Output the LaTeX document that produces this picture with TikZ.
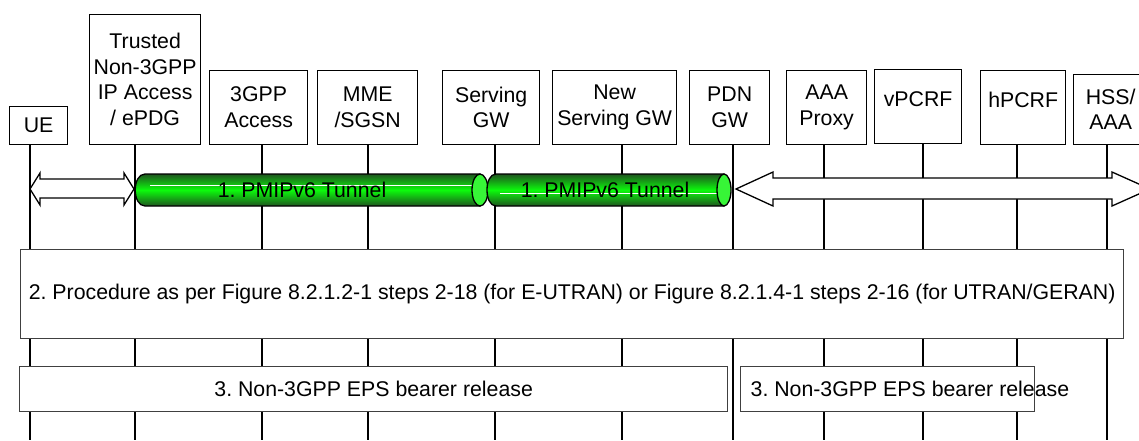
\documentclass[tikz,border=0pt]{standalone}
\usepackage{fontspec}
\setmainfont{Liberation Sans}
\frenchspacing
\definecolor{tundark}{RGB}{30,85,30}
\definecolor{tunmid}{RGB}{12,250,12}
\definecolor{capgreen}{RGB}{55,245,55}
\begin{document}
\begin{tikzpicture}[
    x=1pt, y=-1pt,
    font=\fontsize{21.3}{25.5}\selectfont,
    entity/.style={rectangle, draw, line width=1.3pt, fill=white, inner sep=0pt, align=center, anchor=south west},
    msgbox/.style={rectangle, draw=black!75, line width=1.3pt, fill=white, inner sep=0pt, anchor=north west},
    life/.style={draw, line width=1.3pt},
    hollow/.style={draw, line width=1.3pt, fill=white, line join=miter},
    tunnel/.style={top color=tundark, bottom color=tundark, middle color=tunmid, draw=black, line width=1.3pt},
    tunnelend/.style={draw, line width=1.3pt, fill=capgreen}
]
    \useasboundingbox (0,0) rectangle (1139,440);

    \node [entity, minimum width=58pt, minimum height=38pt] (ue) at (9,145) {UE};
    \node [entity, minimum width=111pt, minimum height=130pt] (tnga) at (89,145) {Trusted\\Non-3GPP\\IP Access\\/ ePDG};
    \node [entity, minimum width=98pt, minimum height=74pt] (acc) at (209,145) {3GPP\\Access};
    \node [entity, minimum width=100pt, minimum height=74pt] (mme) at (317,145) {MME\\/SGSN};
    \node [entity, minimum width=97pt, minimum height=74pt] (sgw) at (442,145) {Serving\\GW};
    \node [entity, minimum width=124pt, minimum height=74pt] (nsgw) at (552,145) {New\\Serving GW};
    \node [entity, minimum width=80pt, minimum height=74pt] (pgw) at (689,145) {PDN\\GW};
    \node [entity, minimum width=80pt, minimum height=74pt] (aaap) at (786,145) {AAA\\Proxy};
    \node [entity, minimum width=87pt, minimum height=74pt, text depth=14.7pt] (vpcrf) at (874,144) {vPCRF};
    \node [entity, minimum width=85pt, minimum height=74pt, text depth=14.7pt] (hpcrf) at (980,145) {hPCRF};
    \node [entity, minimum width=74pt, minimum height=70pt] (hss) at (1073,145) {HSS/\\AAA};

    \foreach \n/\x in {ue/30, tnga/135, acc/262, mme/368, sgw/495, nsgw/622, pgw/733, aaap/824, vpcrf/923, hpcrf/1017, hss/1107}
        \draw [life] (\n.south -| \x,0) -- (\x,440);

    \draw [hollow] (30,189) -- (40,173) -- (40,179) -- (124,179) -- (124,173) -- (134,189) -- (124,205) -- (124,198) -- (40,198) -- (40,205) -- cycle;
    \draw [hollow] (736,189) -- (773,172) -- (773,178) -- (1112,178) -- (1112,172) -- (1150,189) -- (1112,206) -- (1112,199) -- (773,199) -- (773,206) -- cycle;

    \shadedraw [tunnel] (145,174) -- (480,174) -- (480,206) -- (145,206) .. controls (132,206) and (132,174) .. cycle;
    \draw [white, line width=0.6pt] (150,185) -- (472,185);
    \draw [tunnelend] (480,190) ellipse [x radius=8, y radius=16];
    \node (t1) at (302,190) {1. PMIPv6 Tunnel};

    \shadedraw [tunnel] (496,174) -- (724,174) -- (724,206) -- (496,206) .. controls (484,206) and (484,174) .. cycle;
    \draw [white, line width=0.6pt] (500,193) -- (717,193);
    \draw [tunnelend] (724,190) ellipse [x radius=7, y radius=16];
    \node (t2) at (605,190) {1. PMIPv6 Tunnel};

    \node [msgbox, minimum width=1103pt, minimum height=89pt] (proc) at (20,249) {2. Procedure as per Figure 8.2.1.2-1 steps 2-18 (for E-UTRAN) or Figure 8.2.1.4-1 steps 2-16 (for UTRAN/GERAN)};

    \node [msgbox, minimum width=708pt, minimum height=45pt] (rel1) at (19,366) {3. Non-3GPP EPS bearer release};
    \node [msgbox, minimum width=294pt, minimum height=45pt, inner xsep=10pt] (rel2) at (740,366) {\makebox[274pt][l]{3. Non-3GPP EPS bearer release}};
\end{tikzpicture}
\end{document}
